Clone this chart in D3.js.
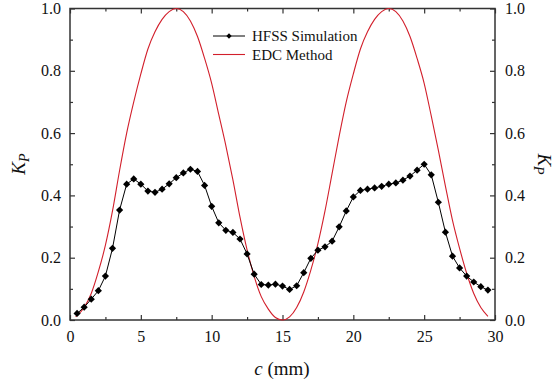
<!DOCTYPE html>
<html>
<head>
<meta charset="utf-8">
<script src="https://cdn.jsdelivr.net/npm/d3@7"></script>
<style>
  html, body { margin: 0; padding: 0; background: #fff; }
  svg { display: block; }
  svg text { font-family: "Liberation Serif", "Times New Roman", "DejaVu Serif", serif !important; fill: #111; }
</style>
</head>
<body>
<svg id="chart" width="555" height="383"></svg>
<script>
// ---- Data ----
const hfssC = [0.5,1.0,1.5,2.0,2.5,3.0,3.5,4.0,4.5,5.0,5.5,6.0,6.5,7.0,7.5,8.0,8.5,9.0,9.5,10.0,
  10.5,11.0,11.5,12.0,12.5,13.0,13.5,14.0,14.5,15.0,15.5,16.0,16.5,17.0,17.5,18.0,18.5,19.0,19.5,20.0,
  20.5,21.0,21.5,22.0,22.5,23.0,23.5,24.0,24.5,25.0,25.5,26.0,26.5,27.0,27.5,28.0,28.5,29.0,29.5];
const hfssK = [0.021,0.041,0.067,0.094,0.141,0.230,0.353,0.436,0.453,0.436,0.414,0.410,0.420,0.437,0.457,0.472,0.484,0.477,0.432,0.365,
  0.312,0.288,0.281,0.260,0.212,0.147,0.114,0.112,0.115,0.109,0.098,0.110,0.152,0.198,0.224,0.235,0.253,0.299,0.350,0.395,
  0.416,0.420,0.424,0.429,0.436,0.440,0.449,0.462,0.481,0.500,0.466,0.378,0.282,0.205,0.167,0.141,0.122,0.107,0.096];

const edcC = [0.4,1.0,1.5,2.0,2.5,3.0,3.5,4.0,4.5,5.0,5.5,6.0,6.5,7.0,7.5,8.0,8.5,9.0,9.5,10.0,
  10.5,11.0,11.5,12.0,12.5,13.0,13.5,14.0,14.5,15.0,15.5,16.0,16.5,17.0,17.5,18.0,18.5,19.0,19.5,20.0,
  20.5,21.0,21.5,22.0,22.5,23.0,23.5,24.0,24.5,25.0,25.5,26.0,26.5,27.0,27.5,28.0,28.5,29.0,29.5];
const edcK = [0.010,0.040,0.085,0.155,0.240,0.350,0.480,0.600,0.700,0.790,0.870,0.925,0.965,0.990,1.000,0.990,0.960,0.910,0.840,0.760,
  0.660,0.560,0.450,0.330,0.225,0.140,0.075,0.035,0.008,0.000,0.010,0.040,0.090,0.160,0.245,0.350,0.470,0.590,0.700,0.790,
  0.870,0.925,0.965,0.990,1.000,0.990,0.960,0.910,0.840,0.760,0.655,0.545,0.430,0.320,0.230,0.150,0.085,0.040,0.012];

const xMajor = [0,5,10,15,20,25,30];
const xMinor = [2.5,7.5,12.5,17.5,22.5,27.5];
const yMajor = [0.0,0.2,0.4,0.6,0.8,1.0];
const yMinor = [0.1,0.3,0.5,0.7,0.9];
const seriesNames = ["HFSS Simulation", "EDC Method"];

// ---- Layout ----
const FONT = '"Liberation Serif", "Times New Roman", "DejaVu Serif", serif';
const svg = d3.select("#chart");
const L = 70, R = 495, T = 8.5, B = 320;
const x = d3.scaleLinear().domain([0, 30]).range([L, R]);
const y = d3.scaleLinear().domain([0, 1]).range([B, T]);
const axisColor = "#333";
const fmt = d3.format(".1f");

function styleAxis(g) {
  g.attr("font-family", null);
  g.select(".domain").remove();
  g.selectAll(".tick line").attr("stroke", axisColor).attr("stroke-width", 1.2);
  g.selectAll(".tick text").attr("font-size", 16).attr("fill", "#111")
    .style("font-family", FONT);
}

// bottom
svg.append("g").attr("transform", `translate(0,${B})`)
  .call(d3.axisBottom(x).tickValues(xMajor).tickSize(-5).tickPadding(11).tickFormat(d3.format("d")))
  .call(styleAxis);
svg.append("g").attr("transform", `translate(0,${B})`)
  .call(d3.axisBottom(x).tickValues(xMinor).tickSize(-3).tickFormat(""))
  .call(styleAxis);
// top
svg.append("g").attr("transform", `translate(0,${T})`)
  .call(d3.axisTop(x).tickValues(xMajor).tickSize(-5).tickFormat(""))
  .call(styleAxis);
svg.append("g").attr("transform", `translate(0,${T})`)
  .call(d3.axisTop(x).tickValues(xMinor).tickSize(-3).tickFormat(""))
  .call(styleAxis);
// left
svg.append("g").attr("transform", `translate(${L},0)`)
  .call(d3.axisLeft(y).tickValues(yMajor).tickSize(-5).tickPadding(9).tickFormat(fmt))
  .call(styleAxis);
svg.append("g").attr("transform", `translate(${L},0)`)
  .call(d3.axisLeft(y).tickValues(yMinor).tickSize(-3).tickFormat(""))
  .call(styleAxis);
// right
svg.append("g").attr("transform", `translate(${R},0)`)
  .call(d3.axisRight(y).tickValues(yMajor).tickSize(-5).tickPadding(10).tickFormat(fmt))
  .call(styleAxis);
svg.append("g").attr("transform", `translate(${R},0)`)
  .call(d3.axisRight(y).tickValues(yMinor).tickSize(-3).tickFormat(""))
  .call(styleAxis);

// frame
svg.append("rect").attr("x", L).attr("y", T).attr("width", R - L).attr("height", B - T)
  .attr("fill", "none").attr("stroke", axisColor).attr("stroke-width", 1.5);

// EDC curve
const edcData = edcC.map((c, i) => [c, edcK[i]]);
svg.append("path").datum(edcData)
  .attr("fill", "none").attr("stroke", "#d21f2b").attr("stroke-width", 1.1)
  .attr("d", d3.line().x(d => x(d[0])).y(d => y(d[1])).curve(d3.curveMonotoneX));

// HFSS series
const hfssData = hfssC.map((c, i) => [c, hfssK[i]]);
svg.append("path").datum(hfssData)
  .attr("fill", "none").attr("stroke", "#000").attr("stroke-width", 1)
  .attr("d", d3.line().x(d => x(d[0])).y(d => y(d[1])));
const sym = d3.symbol().type(d3.symbolSquare).size(26);
svg.append("g").selectAll("path").data(hfssData).join("path")
  .attr("d", sym)
  .attr("transform", d => `translate(${x(d[0])},${y(d[1])}) rotate(45)`)
  .attr("fill", "#000");

// legend
const lg = svg.append("g");
lg.append("line").attr("x1", 213).attr("x2", 245).attr("y1", 36).attr("y2", 36)
  .attr("stroke", "#000").attr("stroke-width", 1);
lg.append("path").attr("d", d3.symbol().type(d3.symbolSquare).size(14))
  .attr("transform", "translate(229,36) rotate(45)").attr("fill", "#000");
lg.append("text").attr("x", 252).attr("y", 36).attr("dy", "0.35em")
  .attr("font-size", 15).style("font-family", FONT).text(seriesNames[0]);
lg.append("line").attr("x1", 213).attr("x2", 245).attr("y1", 54.5).attr("y2", 54.5)
  .attr("stroke", "#d21f2b").attr("stroke-width", 1.1);
lg.append("text").attr("x", 252).attr("y", 54.5).attr("dy", "0.35em")
  .attr("font-size", 15).style("font-family", FONT).text(seriesNames[1]);

// axis titles
const xt = svg.append("text").attr("x", 282).attr("y", 375).attr("text-anchor", "middle")
  .attr("font-size", 19).style("font-family", FONT);
xt.append("tspan").attr("font-style", "italic").text("c");
xt.append("tspan").text(" (mm)");

function kp(g) {
  g.append("tspan").attr("font-style", "italic").text("K");
  g.append("tspan").attr("font-style", "italic").attr("font-size", 14).attr("dy", 4).text("P");
}
const ylt = svg.append("text").attr("transform", "translate(25,164) rotate(-90)")
  .attr("text-anchor", "middle").attr("font-size", 19).style("font-family", FONT);
kp(ylt);
const yrt = svg.append("text").attr("transform", "translate(538,164) rotate(90)")
  .attr("text-anchor", "middle").attr("font-size", 19).style("font-family", FONT);
kp(yrt);
</script>
</body>
</html>
